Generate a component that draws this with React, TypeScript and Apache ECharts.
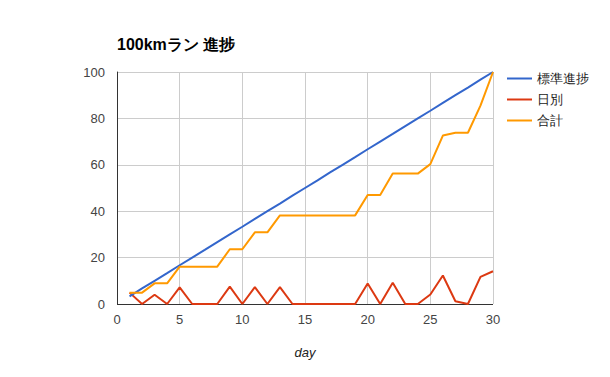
import React, { useEffect, useRef } from "react";
import * as echarts from "echarts";

const days = [1,2,3,4,5,6,7,8,9,10,11,12,13,14,15,16,17,18,19,20,21,22,23,24,25,26,27,28,29,30];
const standard = [3.3,6.7,10,13.3,16.7,20,23.3,26.7,30,33.3,36.7,40,43.3,46.7,50,53.3,56.7,60,63.3,66.7,70,73.3,76.7,80,83.3,86.7,90,93.3,96.7,100];
const daily = [4.9,0,4,0,7.2,0,0,0,7.5,0,7.3,0,7.3,0,0,0,0,0,0,8.8,0,9.2,0,0,4.1,12.3,1.2,0,11.7,14.1];
const total = [4.9,4.9,8.9,8.9,16.1,16.1,16.1,16.1,23.6,23.6,30.9,30.9,38.2,38.2,38.2,38.2,38.2,38.2,38.2,47.0,47.0,56.2,56.2,56.2,60.3,72.6,73.8,73.8,85.5,100];
const seriesNames = ["標準進捗", "日別", "合計"];
const colors = ["#3366cc", "#dc3912", "#ff9900"];

const font = "'Liberation Sans', Arial, sans-serif";

export default function App() {
  const ref = useRef<HTMLDivElement>(null);
  useEffect(() => {
    const chart = echarts.init(ref.current!, null, { renderer: "svg" });
    const pair = (vals: number[]) => days.map((d, i) => [d, vals[i]]);
    const allData = [standard, daily, total];
    chart.setOption({
      animation: false,
      textStyle: { fontFamily: font },
      title: {
        text: "100kmラン 進捗",
        left: 117,
        top: 36,
        padding: 0,
        textStyle: { fontSize: 16, fontWeight: "bold", color: "#000", fontFamily: font },
      },
      legend: {
        orient: "vertical",
        left: 507,
        top: 72,
        padding: 0,
        itemWidth: 25,
        itemHeight: 2,
        itemGap: 8,
        icon: "rect",
        textStyle: { fontSize: 13, color: "#222", fontFamily: font },
        data: seriesNames,
      },
      grid: { left: 117, right: 117, top: 72, bottom: 73, containLabel: false },
      xAxis: {
        type: "value",
        min: 0,
        max: 30,
        interval: 5,
        name: "day",
        nameLocation: "middle",
        nameGap: 42,
        nameTextStyle: { fontStyle: "italic", fontSize: 13, color: "#222" },
        axisLine: { show: false },
        axisTick: { show: false },
        axisLabel: { color: "#444", fontSize: 13, margin: 9 },
        splitLine: { lineStyle: { color: "#cccccc" } },
      },
      yAxis: {
        type: "value",
        min: 0,
        max: 100,
        interval: 20,
        axisLine: { show: true, onZero: false, lineStyle: { color: "#333" } },
        axisTick: { show: false },
        axisLabel: { color: "#444", fontSize: 13, margin: 12 },
        splitLine: { lineStyle: { color: "#cccccc" } },
      },
      series: seriesNames.map((name, i) => ({
        name,
        type: "line",
        data: pair(allData[i]),
        showSymbol: false,
        symbol: "none",
        color: colors[i],
        lineStyle: { width: 2, color: colors[i] },
        z: i === 0 ? 3 : i === 1 ? 2 : 4,
        markLine: i === 1 ? {
          silent: true,
          symbol: "none",
          label: { show: false },
          lineStyle: { color: "#333", width: 1, type: "solid" },
          data: [{ yAxis: 0 }],
          z: 1,
        } : undefined,
      })),
    });
    return () => chart.dispose();
  }, []);
  return <div ref={ref} style={{ width: 610, height: 377, position: "absolute", left: 0, top: 0 }} />;
}
